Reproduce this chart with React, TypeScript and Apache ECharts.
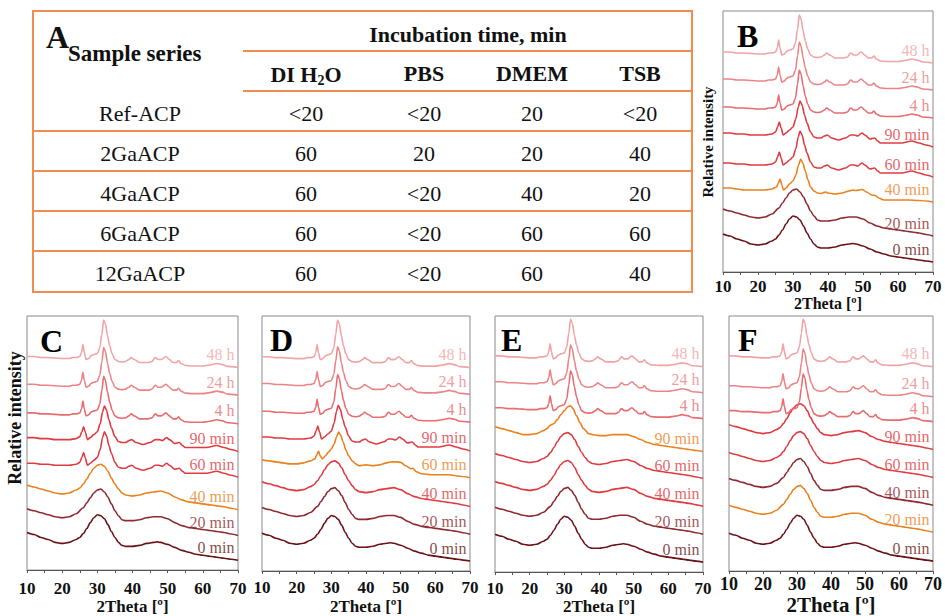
import React, { useEffect, useRef } from 'react';
import * as echarts from 'echarts';

// ---------- data ----------
const TIME_LABELS = ['0 min', '20 min', '40 min', '60 min', '90 min', '4 h', '24 h', '48 h'];
const PANEL_LETTERS = ['B', 'C', 'D', 'E', 'F'];

// table (panel A)
const TABLE_HEAD = 'Incubation time, min';
const SAMPLE_HEAD = 'Sample series';
const SAMPLES = ['Ref-ACP', '2GaACP', '4GaACP', '6GaACP', '12GaACP'];
const COL_DI_H2O = ['<20', '60', '60', '60', '60'];
const COL_PBS = ['<20', '20', '<20', '<20', '<20'];
const COL_DMEM = ['20', '20', '40', '60', '60'];
const COL_TSB = ['<20', '40', '20', '60', '40'];

// XRD profiles: [2theta, relative intensity above trace end]
const AM0 = [[10,28],[12,26],[14,23],[16,21],[18,18],[20,17],[22,18],[24,21],[25,23],[26,27],[27,32],[28,38],[29,43],[30,46],[31,45],[32,42],[33,36],[34,29],[35,23],[36,18],[37,15],[38,14],[40,14],[42,15],[44,17],[46,18],[47,18.5],[48,18],[50,16],[52,13],[54,10],[56,8],[58,6],[60,5],[62,4],[64,3],[66,2],[68,1],[70,0]];
const AM20 = [[10,27],[12,25],[14,23],[16,21],[18,19],[20,18],[22,19],[24,22],[26,28],[27,33],[28,38],[29,43],[30,46],[31,47],[32,44],[33,39],[34,32],[35,25],[36,20],[37,16],[38,15],[40,15],[42,16],[44,18],[46,19],[48,19],[50,17],[52,13],[54,10],[56,8],[58,7],[60,6],[62,5],[64,4],[66,3],[68,1.5],[70,0]];
const AMLATE = [[10,25],[12,23],[14,21],[16,19],[18,17],[20,16],[22,17],[24,20],[25,22],[26,26],[27,31],[28,37],[29,42],[30,45],[31,46],[32,44],[33,39],[34,32],[35,26],[36,21],[37,17],[38,15],[40,14],[42,15],[44,17],[46,18],[48,19],[50,17],[52,13],[54,10],[56,8],[58,7],[60,6],[62,5],[64,4],[66,3],[68,1.5],[70,0]];
const E90 = [[10,25],[12,23],[14,21],[16,19],[18,17],[20,17],[22,18],[24,21],[25,23],[25.8,26],[26.3,27],[27,28],[28,32],[29,37],[30,41],[31,45],[31.8,46],[32.5,43],[33.5,36],[34.5,29],[35.5,23],[37,18],[38,17],[40,16],[42,16],[44,17],[46,17],[48,17],[50,15],[52,12],[54,9],[56,7],[58,6],[60,5],[62,4],[64,3],[66,2],[68,1],[70,0]];
const TRANS = [[10,14],[12,14],[14,13],[16,12],[18,12],[20,12],[22,12],[24,13],[25.3,15],[25.8,19],[26.3,23],[26.8,17],[27.3,12],[28,14],[29,18],[30,21],[30.8,27],[31.6,37],[32.2,43],[32.8,39],[33.5,31],[34.3,22],[35,15],[36,11],[37,9],[38,8.5],[39.3,10],[40,9],[42,8],[44,9],[46,11],[47,12],[48,11.5],[49.8,12.5],[51,10],[52.5,7],[53.5,6.5],[54.5,4],[56,2],[60,2],[63,2],[66,1.5],[70,0]];
const TRANS_D = [[10,18],[12,17],[14,16],[16,15],[18,14],[20,14],[22,15],[24,17],[25.2,19],[25.8,23],[26.3,27],[26.8,22],[27.4,19],[28.3,22],[29.2,26],[30,29],[30.8,34],[31.5,41],[32.1,46],[32.7,43],[33.4,36],[34.2,28],[35,22],[36,17],[37,14],[38,12],[40,13],[42,12],[44,13],[46,15],[47.5,16],[49,16],[50,15.5],[51.5,12],[53,9],[53.5,9.5],[54.5,6],[56,4],[59,3],[62,3],[64,3],[67,1.5],[70,0]];
const MED = [[10,14],[12,14],[14,13],[16,13],[18,12],[20,12],[22,12],[24,13],[25,15],[25.6,20],[26.1,25],[26.6,19],[27.2,12],[28,14],[29,17],[30,20],[30.8,28],[31.5,40],[32,46],[32.6,42],[33.3,32],[34,24],[35,15],[36,10],[37,9],[38,9],[39,11],[39.8,12],[41,9],[43,7],[45,9],[46.5,12],[47.5,12],[48.5,11],[49.7,14],[50.5,12],[52,8],[53.3,9],[54.2,6],[55,4],[58,4],[61,4],[64,6],[66,4],[68,2],[70,0]];
const HIGH = [[10,11],[12,11],[14,10],[16,10],[18,9.5],[20,9],[22,9],[23,10],[24,10],[25,11],[25.5,15],[25.9,23],[26.3,15],[26.8,8],[27.5,9],[28.3,12],[29,13],[30,14],[30.7,20],[31.3,34],[31.8,48],[32.3,44],[32.9,32],[33.5,22],[34.2,14],[35,8],[36,6],[37,5.5],[38,6],[39,8],[39.6,10],[40.5,8],[42,5],[43.5,5],[44.5,5],[45.5,6],[46.5,10],[47.3,8],[48.2,8],[49.5,11],[50.5,8],[51.5,5],[52.5,5],[53.1,7],[53.8,4],[55,2],[57,1.5],[60,1.5],[62,2.5],[64,4],[65.5,3],[67,1],[70,0]];

// stacking offsets (trace end heights) per panel, order follows TIME_LABELS
const OFFSETS_B = [10, 36, 70, 95, 125, 154, 182, 209];
const OFFSETS_C = [10, 35, 61, 94, 120, 148, 177, 205];
const OFFSETS_D = [10, 37, 65, 94, 121, 150, 178, 205];
const OFFSETS_E = [10, 38, 66, 94, 121, 154, 180, 206];
const OFFSETS_F = [10, 39, 66, 94, 122, 150, 175, 205];

const PROFILES_B = [AM0, AM20, TRANS, MED, MED, HIGH, HIGH, HIGH];
const PROFILES_C = [AM0, AM20, AMLATE, MED, MED, HIGH, HIGH, HIGH];
const PROFILES_D = [AM0, AM20, AMLATE, TRANS_D, MED, HIGH, HIGH, HIGH];
const PROFILES_E = [AM0, AM20, AMLATE, AMLATE, E90, HIGH, HIGH, HIGH];
const PROFILES_F = [AM0, AM20, AM20, AMLATE, AMLATE, HIGH, HIGH, HIGH];

// ---------- styles / layout ----------
const C0 = '#6a1216';
const C20 = '#8e2b30';
const OR = '#e9821f';
const RED = '#df3b40';
const H4 = '#e86c70';
const H24 = '#ec8486';
const H48 = '#f1a4a5';
const COLORS_B = [C0, C20, OR, RED, RED, H4, H24, H48];
const COLORS_C = [C0, C20, OR, RED, RED, H4, H24, H48];
const COLORS_D = [C0, C20, RED, OR, RED, H4, H24, H48];
const COLORS_E = [C0, C20, RED, RED, OR, H4, H24, H48];
const COLORS_F = [C0, OR, C20, RED, RED, H4, H24, H48];

const SERIF = 'Liberation Serif';
const TABLE_ORANGE = '#f08c52';

const LAYOUT = [
  { left: 723, top: 11, width: 210, height: 261, tickSize: 17, tickMargin: 6, nameSize: 16, nameGap: 23, letter: [737, 36] },
  { left: 27, top: 316, width: 211, height: 257, tickSize: 17, tickMargin: 10, nameSize: 17, nameGap: 27, letter: [40, 341] },
  { left: 262, top: 316, width: 208, height: 257, tickSize: 17, tickMargin: 8, nameSize: 17, nameGap: 27, letter: [270, 340] },
  { left: 495, top: 316, width: 208, height: 257, tickSize: 17, tickMargin: 8, nameSize: 17, nameGap: 25, letter: [501, 340] },
  { left: 729, top: 316, width: 206, height: 256, tickSize: 18, tickMargin: 4, nameSize: 21, nameGap: 22, letter: [738, 340] },
];

const PANEL_DATA = [
  { offsets: OFFSETS_B, profiles: PROFILES_B, colors: COLORS_B },
  { offsets: OFFSETS_C, profiles: PROFILES_C, colors: COLORS_C },
  { offsets: OFFSETS_D, profiles: PROFILES_D, colors: COLORS_D },
  { offsets: OFFSETS_E, profiles: PROFILES_E, colors: COLORS_E },
  { offsets: OFFSETS_F, profiles: PROFILES_F, colors: COLORS_F },
];

function buildTable(): any[] {
  const els: any[] = [];
  const L = 33, R = 692, T = 11, B = 292, H0 = 243;
  els.push({ type: 'rect', shape: { x: L, y: T, width: R - L, height: B - T }, style: { fill: 'none', stroke: TABLE_ORANGE, lineWidth: 2 }, silent: true });
  [51, 91].forEach((y) => els.push({ type: 'line', shape: { x1: H0, y1: y, x2: R, y2: y }, style: { stroke: TABLE_ORANGE, lineWidth: 2 }, silent: true }));
  [131, 171, 211, 251].forEach((y) => els.push({ type: 'line', shape: { x1: L, y1: y, x2: R, y2: y }, style: { stroke: TABLE_ORANGE, lineWidth: 2 }, silent: true }));
  const txt = (text: string, x: number, y: number, size: number, bold: boolean, align = 'center') => ({
    type: 'text', x, y, silent: true,
    style: { text, fill: '#111', fontFamily: SERIF, fontSize: size, fontWeight: bold ? 'bold' : 'normal', align, verticalAlign: 'middle' },
  });
  els.push(txt('A', 46, 37, 32, true, 'left'));
  els.push(txt(SAMPLE_HEAD, 68, 53, 23, true, 'left'));
  els.push(txt(TABLE_HEAD, 468, 34, 22, true));
  const colX = [306, 424, 532, 640];
  els.push({
    type: 'text', x: colX[0], y: 74, silent: true,
    style: {
      text: '{a|DI H}{s|2}{a|O}', align: 'center', verticalAlign: 'middle', fill: '#111',
      fontFamily: SERIF, fontWeight: 'bold', fontSize: 22,
      rich: {
        a: { fontFamily: SERIF, fontWeight: 'bold', fontSize: 22, lineHeight: 26, fill: '#111' },
        s: { fontFamily: SERIF, fontWeight: 'bold', fontSize: 14, lineHeight: 16, verticalAlign: 'bottom', fill: '#111' },
      },
    },
  });
  els.push(txt('PBS', colX[1], 73, 22, true));
  els.push(txt('DMEM', colX[2], 73, 22, true));
  els.push(txt('TSB', colX[3], 73, 22, true));
  const cols = [COL_DI_H2O, COL_PBS, COL_DMEM, COL_TSB];
  SAMPLES.forEach((s, i) => {
    const y = 113 + i * 40;
    els.push(txt(s, 140, y, 22, false));
    cols.forEach((c, j) => els.push(txt(c[i], colX[j], y, 22, false)));
  });
  return els;
}

export default function App() {
  const ref = useRef<HTMLDivElement>(null);
  useEffect(() => {
    document.body.style.margin = '0';
    const chart = echarts.init(ref.current!, null, { renderer: 'svg' });
    const grid: any[] = [];
    const xAxis: any[] = [];
    const yAxis: any[] = [];
    const series: any[] = [];
    const graphic: any[] = buildTable();

    LAYOUT.forEach((lay, p) => {
      grid.push({ left: lay.left, top: lay.top, width: lay.width, height: lay.height, show: true, borderColor: '#8a8a8a', borderWidth: 1, backgroundColor: 'transparent' });
      xAxis.push({
        gridIndex: p, type: 'value', min: 10, max: 70, interval: 10,
        axisLine: { show: true, lineStyle: { color: '#555', width: 1 } },
        axisTick: { show: true, inside: false, length: 3, lineStyle: { color: '#555' } },
        minorTick: { show: true, splitNumber: 2, length: 3, lineStyle: { color: '#555' } },
        splitLine: { show: false }, minorSplitLine: { show: false },
        axisLabel: { fontFamily: SERIF, fontWeight: 'bold', fontSize: lay.tickSize, color: '#111', margin: lay.tickMargin },
        name: '2Theta [º]', nameLocation: 'middle', nameGap: lay.nameGap,
        nameTextStyle: { fontFamily: SERIF, fontWeight: 'bold', fontSize: lay.nameSize, color: '#111' },
      });
      yAxis.push({ gridIndex: p, type: 'value', min: 0, max: lay.height, show: false });
      const pd = PANEL_DATA[p];
      pd.profiles.forEach((prof, i) => {
        const off = pd.offsets[i];
        series.push({
          type: 'line', xAxisIndex: p, yAxisIndex: p, silent: true,
          data: prof.map(([x, y]) => [x, y + off]),
          showSymbol: false, symbol: 'none', smooth: 0.3, smoothMonotone: 'x',
          lineStyle: { color: pd.colors[i], width: 1.6 },
        });
      });
      series.push({
        type: 'scatter', xAxisIndex: p, yAxisIndex: p, silent: true, symbolSize: 1,
        itemStyle: { color: 'rgba(0,0,0,0)' },
        data: pd.offsets.map((o, i) => ({ value: [70, o], name: TIME_LABELS[i], label: { color: pd.colors[i] } })),
        label: { show: true, position: 'left', distance: 3, offset: [0, -13], formatter: '{b}', fontFamily: SERIF, fontSize: 16 },
      });
      graphic.push({
        type: 'text', x: lay.letter[0], y: lay.letter[1], silent: true,
        style: { text: PANEL_LETTERS[p], fontFamily: SERIF, fontWeight: 'bold', fontSize: 32, fill: '#000', align: 'left', verticalAlign: 'middle' },
      });
    });
    graphic.push({ type: 'text', x: 708, y: 142, rotation: Math.PI / 2, silent: true, style: { text: 'Relative intensity', fontFamily: SERIF, fontWeight: 'bold', fontSize: 15, fill: '#111', align: 'center', verticalAlign: 'middle' } });
    graphic.push({ type: 'text', x: 15, y: 418, rotation: Math.PI / 2, silent: true, style: { text: 'Relative intensity', fontFamily: SERIF, fontWeight: 'bold', fontSize: 18, fill: '#111', align: 'center', verticalAlign: 'middle' } });

    chart.setOption({ animation: false, backgroundColor: '#fff', textStyle: { fontFamily: SERIF }, grid, xAxis, yAxis, series, graphic });
    return () => chart.dispose();
  }, []);
  return <div ref={ref} style={{ width: 945, height: 616 }} />;
}
